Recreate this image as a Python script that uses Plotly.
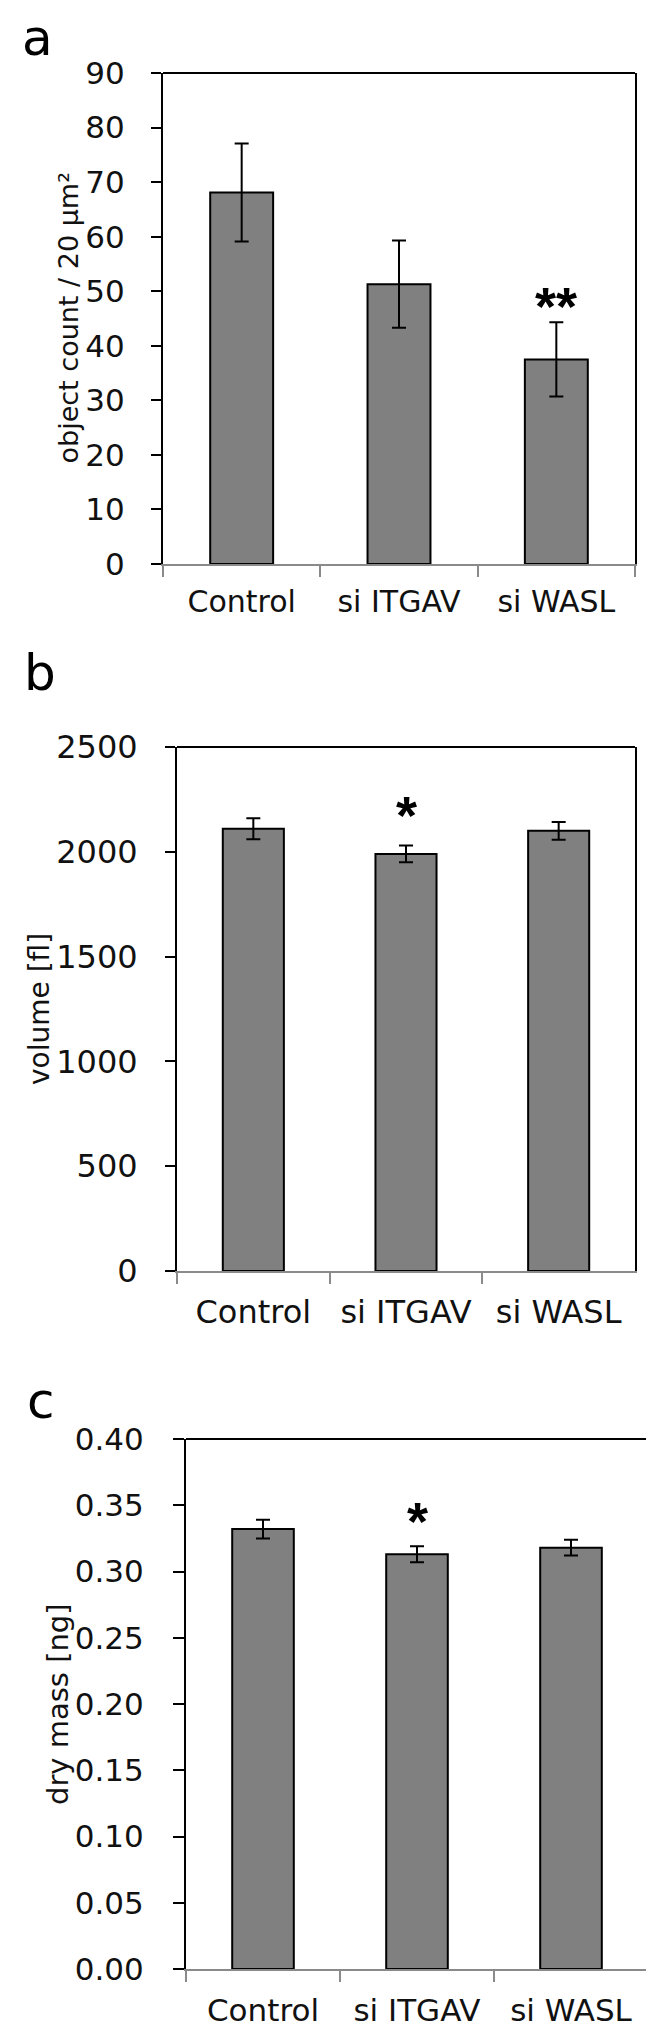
import plotly.graph_objects as go

W, H = 654, 2040

categories = ["Control", "si ITGAV", "si WASL"]

# panel a: object count / 20 µm²
count_mean = [68.1, 51.3, 37.5]
count_err = [9.0, 8.0, 6.8]
# panel b: volume [fl]
vol_mean = [2110, 1990, 2100]
vol_err = [50, 40, 42]
# panel c: dry mass [ng]
mass_mean = [0.332, 0.313, 0.318]
mass_err = [0.007, 0.006, 0.006]

# significance marks and their heights (data units)
sig_a = ["", "", "**"]
sig_a_y = [0, 0, 49.6]
sig_b = ["", "*", ""]
sig_b_y = [0, 2236, 0]
sig_c = ["", "*", ""]
sig_c_y = [0, 0.348, 0]

FONT = "DejaVu Sans, Verdana, sans-serif"
STAR_FONT = "Liberation Sans, Arial, sans-serif"

# panel geometry in pixels: (left, right, top, bottom)
panels = [
    dict(box=(155, 627, 65, 556), mean=count_mean, err=count_err,
         sig=sig_a, sig_y=sig_a_y,
         rng=[0, 90], dtick=10, fmt="d", title="object count / 20 µm²",
         tx=60, tsize=27, tick=31, cat=30, ylen=10, ystand=20, xstand=10,
         label="a", lx=12, ly=30),
    dict(box=(169, 627, 739, 1263), mean=vol_mean, err=vol_err,
         sig=sig_b, sig_y=sig_b_y,
         rng=[0, 2500], dtick=500, fmt="d", title="volume [fl]",
         tx=31, tsize=28, tick=32, cat=32, ylen=10, ystand=21, xstand=12,
         label="b", lx=14, ly=665),
    dict(box=(178, 640, 1431, 1961), mean=mass_mean, err=mass_err,
         sig=sig_c, sig_y=sig_c_y,
         rng=[0, 0.40], dtick=0.05, fmt=".2f", title="dry mass [ng]",
         tx=50, tsize=29, tick=31, cat=31, ylen=11, ystand=23, xstand=13,
         label="c", lx=17, ly=1393),
]

fig = go.Figure()
annotations = []
shapes = []

for i, p in enumerate(panels):
    n = "" if i == 0 else str(i + 1)
    xa, ya = "x" + n, "y" + n
    L, R, T, B = p["box"]
    fig.add_trace(go.Bar(
        x=categories, y=p["mean"], xaxis=xa, yaxis=ya,
        marker=dict(color="#808080", line=dict(color="#000000", width=2)),
        error_y=dict(type="data", array=p["err"], visible=True,
                     color="#000000", thickness=2, width=7),
        showlegend=False, hoverinfo="skip",
    ))
    fig.layout["xaxis" + n] = dict(
        domain=[L / W, R / W], anchor=ya, type="category",
        range=[-0.5, 2.5], tickson="boundaries", ticks="outside",
        ticklen=11, tickwidth=1.5, tickcolor="#8a8a8a",
        showline=True, linecolor="#8a8a8a", linewidth=1.5,
        showgrid=False, zeroline=False, fixedrange=True, automargin=False,
        ticklabelstandoff=p["xstand"],
        tickfont=dict(family=FONT, size=p["cat"], color="#111111"),
    )
    fig.layout["yaxis" + n] = dict(
        domain=[1 - B / H, 1 - T / H], anchor=xa,
        range=p["rng"], dtick=p["dtick"], tick0=0, tickformat=p["fmt"],
        ticks="outside", ticklen=p["ylen"], tickwidth=2, tickcolor="#000000",
        showline=True, linecolor="#000000", linewidth=2, mirror=True,
        showgrid=False, zeroline=False, fixedrange=True, automargin=False,
        ticklabelstandoff=p["ystand"],
        tickfont=dict(family=FONT, size=p["tick"], color="#111111"),
    )
    # top frame line
    shapes.append(dict(type="line", xref=xa + " domain", yref=ya + " domain",
                       x0=0, x1=1, y0=1, y1=1,
                       line=dict(color="#000000", width=2)))
    # axis title
    annotations.append(dict(
        text=p["title"], xref="paper", yref="paper",
        x=p["tx"] / W, y=1 - ((T + B) / 2) / H, textangle=-90,
        showarrow=False, xanchor="center", yanchor="middle",
        font=dict(family=FONT, size=p["tsize"], color="#111111"),
    ))
    # panel label
    annotations.append(dict(
        text=p["label"], xref="paper", yref="paper",
        x=p["lx"] / W, y=1 - p["ly"] / H, showarrow=False,
        xanchor="left", yanchor="middle",
        font=dict(family=FONT, size=50, color="#000000"),
    ))
    # significance marks
    for c, s, sy in zip(categories, p["sig"], p["sig_y"]):
        if s:
            annotations.append(dict(
                text="<b>" + s + "</b>", xref=xa, yref=ya,
                x=c, y=sy, showarrow=False, yshift=-13,
                xanchor="center", yanchor="middle",
                font=dict(family=STAR_FONT, size=54, color="#000000"),
            ))

fig.update_layout(
    width=W, height=H, autosize=False,
    margin=dict(l=0, r=0, t=0, b=0, pad=0, autoexpand=False),
    paper_bgcolor="#ffffff", plot_bgcolor="#ffffff",
    bargap=0.6,
    annotations=annotations, shapes=shapes,
    font=dict(family=FONT),
)

fig.write_html("out.html")
